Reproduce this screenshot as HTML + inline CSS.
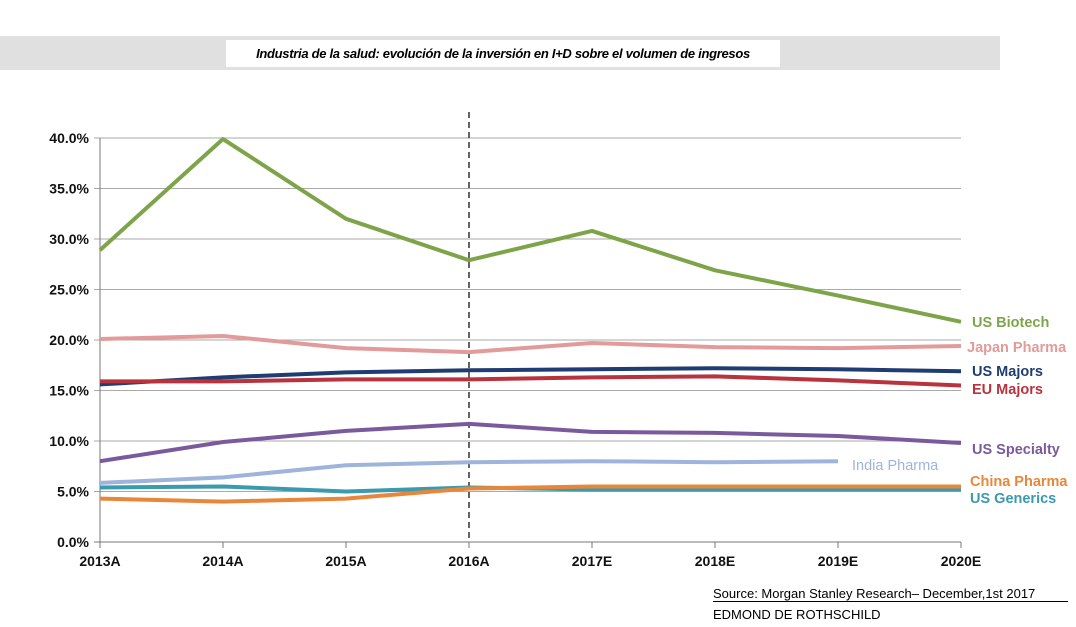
<!DOCTYPE html>
<html><head><meta charset="utf-8"><style>
body{margin:0;background:#fff;width:1076px;height:627px;overflow:hidden;font-family:"Liberation Sans",Arial,sans-serif}
</style></head><body>
<div style="position:absolute;left:0;top:36px;width:1000px;height:34px;background:#e0e0e0"></div>
<div style="position:absolute;left:226px;top:40px;width:554px;height:27px;background:#fff;font-style:italic;font-weight:bold;font-size:13px;line-height:27px;text-align:center;letter-spacing:-0.3px">Industria de la salud: evolución de la inversión en I+D sobre el volumen de ingresos</div>
<svg id="chart" width="1076" height="627" style="position:absolute;left:0;top:0"></svg>
<div style="position:absolute;left:713px;top:586px;width:355px;font-size:13px;border-bottom:1px solid #000;line-height:15px">Source: Morgan Stanley Research– December,1st 2017</div>
<div style="position:absolute;left:713px;top:607px;font-size:13px">EDMOND DE ROTHSCHILD</div>
<script>
const categories=["2013A","2014A","2015A","2016A","2017E","2018E","2019E","2020E"];
const yTicks=[0,5,10,15,20,25,30,35,40];
const usBiotech=[28.9,39.9,32.0,27.9,30.8,26.9,24.4,21.8];
const japanPharma=[20.1,20.4,19.2,18.8,19.7,19.3,19.2,19.4];
const usMajors=[15.6,16.3,16.8,17.0,17.1,17.2,17.1,16.9];
const euMajors=[15.9,15.9,16.1,16.1,16.3,16.4,16.0,15.5];
const usSpecialty=[8.0,9.9,11.0,11.7,10.9,10.8,10.5,9.8];
const indiaPharma=[5.85,6.4,7.6,7.9,8.0,7.9,8.0];
const usGenerics=[5.4,5.5,5.0,5.4,5.2,5.2,5.2,5.2];
const chinaPharma=[4.3,4.0,4.3,5.3,5.5,5.5,5.5,5.5];
const series=[
 {name:"US Biotech",vals:usBiotech,color:"#7ea44a",lx:972,ly:327},
 {name:"Japan Pharma",vals:japanPharma,color:"#e29a9a",lx:967,ly:352},
 {name:"US Majors",vals:usMajors,color:"#1f3d72",lx:972,ly:376},
 {name:"EU Majors",vals:euMajors,color:"#b8333d",lx:972,ly:394},
 {name:"US Specialty",vals:usSpecialty,color:"#7a5a9c",lx:972,ly:454},
 {name:"US Generics",vals:usGenerics,color:"#3a9aae",lx:970,ly:503},
 {name:"China Pharma",vals:chinaPharma,color:"#e8873a",lx:970,ly:486},
 {name:"India Pharma",vals:indiaPharma,color:"#9fb4db",lx:852,ly:470}
];
const X0=100,DX=123,Y0=542,PY=10.1;
const xs=i=>X0+i*DX, ys=v=>Y0-v*PY;
const svg=document.getElementById('chart');const NS="http://www.w3.org/2000/svg";
function mk(t,a){const e=document.createElementNS(NS,t);for(const k in a)e.setAttribute(k,a[k]);svg.appendChild(e);return e;}
yTicks.forEach(v=>{
 const g=mk('line',{x1:X0-6,x2:xs(7),y1:ys(v),y2:ys(v),stroke:v===0?'#777':'#aaa','stroke-width':1});
 
 
 const t=mk('text',{x:X0-11,y:ys(v)+5,'text-anchor':'end','font-size':14,'font-weight':'bold',fill:'#111'});
 t.textContent=v.toFixed(1)+'%';
 
 
});
const ax=mk('line',{x1:X0,x2:X0,y1:ys(40),y2:Y0+5,stroke:'#777'});


categories.forEach((c,i)=>{
 const tk=mk('line',{x1:xs(i),x2:xs(i),y1:Y0,y2:Y0+6,stroke:'#777'});
 
 
 const t=mk('text',{x:xs(i),y:Y0+24,'text-anchor':'middle','font-size':14,'font-weight':'bold',fill:'#111'});
 t.textContent=c;
 
 
});
const dl=mk('line',{x1:xs(3),x2:xs(3),y1:112,y2:Y0,stroke:'#111','stroke-dasharray':'6,4','stroke-width':1.3});


series.forEach(s=>{
 const p=mk('polyline',{points:s.vals.map((v,i)=>xs(i)+','+ys(v)).join(' '),fill:'none',stroke:s.color,'stroke-width':4,'stroke-linejoin':'round'});
 
 
 const t=mk('text',{x:s.lx,y:s.ly,'font-size':14.5,fill:s.color,'font-weight':s.name==='India Pharma'?'normal':'bold'});
 t.textContent=s.name;
 
 
});
</script>
</body></html>
